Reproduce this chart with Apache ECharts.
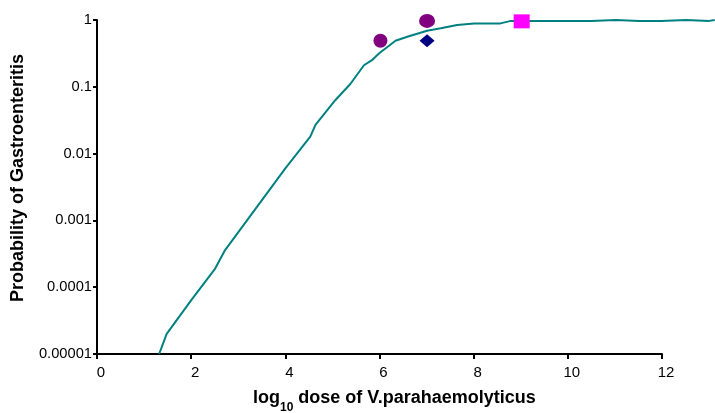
<!DOCTYPE html>
<html>
<head>
<meta charset="utf-8">
<script src="https://cdn.jsdelivr.net/npm/echarts@6/dist/echarts.min.js"></script>
<style>
html, body { margin: 0; padding: 0; background: #fff; }
#chart { width: 715px; height: 413px; }
</style>
</head>
<body>
<div id="chart"></div>
<script>
// dose-response curve (log10 dose, probability)
var curveDose = [1.32, 1.48, 2.01, 2.51, 2.72, 4.0, 4.53, 4.64, 5.06, 5.38, 5.67, 5.84, 5.91, 6.0, 6.34, 6.59, 7.01, 7.3, 7.65, 8.01, 8.57, 8.79, 10.49, 11.02, 11.52, 11.53, 11.98, 11.99, 12.51, 13.0, 13.02, 13.12];
var curveProb = [0.00001, 0.00002, 0.000065, 0.00019, 0.00036, 0.006, 0.018, 0.027, 0.063, 0.11, 0.21, 0.25, 0.28, 0.32, 0.49, 0.56, 0.69, 0.75, 0.84, 0.89, 0.89, 0.97, 0.97, 1.0, 0.97, 1.0, 0.97, 1.0, 1.0, 0.97, 1.0, 1.0];

// observed points
var circleDose = [6.02, 7.01];
var circleProb = [0.49, 0.97];
var diamondDose = [7.01];
var diamondProb = [0.49];
var squareDose = [9.02];
var squareProb = [0.955];

var xTicks = [0, 2, 4, 6, 8, 10, 12];
var yTickLabels = ['0.00001', '0.0001', '0.001', '0.01', '0.1', '1'];

function pairs(xs, ys) {
	var out = [];
	for (var i = 0; i < xs.length; i++) out.push([xs[i], ys[i]]);
	return out;
}

var chart = echarts.init(document.getElementById('chart'));
var font = 'Liberation Sans, Arial, sans-serif';

// grid 0 = visible axes (x to 12); grid 1 = same scale, runs to the right edge so the curve can go past 12
var plotLeft = 97, plotRight = 662, pageW = 715;
var xMaxVisible = xTicks[xTicks.length - 1];
var xMaxWide = xMaxVisible * (pageW - plotLeft) / (plotRight - plotLeft);

var option = {
	animation: false,
	grid: [
		{ left: plotLeft, right: pageW - plotRight, top: 20, bottom: 59 },
		{ left: plotLeft, right: 0, top: 20, bottom: 59 }
	],
	xAxis: [
		{
			type: 'value',
			gridIndex: 0,
			min: xTicks[0],
			max: xMaxVisible,
			interval: 2,
			splitLine: { show: false },
			axisLine: { lineStyle: { color: '#000', width: 2 } },
			axisTick: { length: 5, lineStyle: { color: '#000', width: 2 } },
			axisLabel: { color: '#000', fontSize: 15, fontFamily: font, margin: 11, padding: [0, 0, 0, 8] }
		},
		{
			type: 'value',
			gridIndex: 1,
			min: 0,
			max: xMaxWide,
			show: false
		}
	],
	yAxis: [
		{
			type: 'log',
			gridIndex: 0,
			logBase: 10,
			min: 0.00001,
			max: 1,
			splitLine: { show: false },
			axisLine: { lineStyle: { color: '#000', width: 2 } },
			axisTick: { length: 4, lineStyle: { color: '#000', width: 2 } },
			axisLabel: {
				color: '#000', fontSize: 14.7, fontFamily: font, margin: 5,
				formatter: function (v) {
					var k = Math.round(Math.log(v) / Math.LN10) + 5;
					return yTickLabels[k] || '';
				}
			}
		},
		{
			type: 'log',
			gridIndex: 1,
			logBase: 10,
			min: 0.00001,
			max: 1,
			show: false
		}
	],
	series: [
		{
			type: 'line',
			xAxisIndex: 1,
			yAxisIndex: 1,
			data: pairs(curveDose, curveProb),
			showSymbol: false,
			clip: false,
			lineStyle: { color: '#008080', width: 2 },
			z: 2
		},
		{
			type: 'scatter',
			data: [[circleDose[0], circleProb[0]]],
			symbol: 'circle',
			symbolSize: [14, 14],
			itemStyle: { color: '#800080', opacity: 1 },
			z: 3
		},
		{
			type: 'scatter',
			data: [[circleDose[1], circleProb[1]]],
			symbol: 'circle',
			symbolSize: [16, 14],
			itemStyle: { color: '#800080', opacity: 1 },
			z: 3
		},
		{
			type: 'scatter',
			data: pairs(diamondDose, diamondProb),
			symbol: 'diamond',
			symbolSize: [15, 13],
			itemStyle: { color: '#000080', opacity: 1 },
			z: 3
		},
		{
			type: 'scatter',
			data: pairs(squareDose, squareProb),
			symbol: 'rect',
			symbolSize: [16, 14],
			itemStyle: { color: '#FF00FF', opacity: 1 },
			z: 3
		}
	],
	graphic: [
		{
			type: 'text',
			left: 253,
			top: 389,
			style: {
				text: '{b|log}{s|10}{b| dose of V.parahaemolyticus}',
				rich: {
					b: { fontSize: 18, fontWeight: 'bold', fontFamily: font, fill: '#000', verticalAlign: 'bottom', lineHeight: 20 },
					s: { fontSize: 12, fontWeight: 'bold', fontFamily: font, fill: '#000', verticalAlign: 'bottom', padding: [0, 0, -7, 0], lineHeight: 20 }
				}
			}
		},
		{
			type: 'text',
			x: 18,
			y: 178,
			rotation: Math.PI / 2,
			style: {
				text: 'Probability of Gastroenteritis',
				fontSize: 18,
				fontWeight: 'bold',
				fontFamily: font,
				fill: '#000',
				align: 'center',
				verticalAlign: 'middle'
			}
		}
	]
};

chart.setOption(option);
</script>
</body>
</html>
